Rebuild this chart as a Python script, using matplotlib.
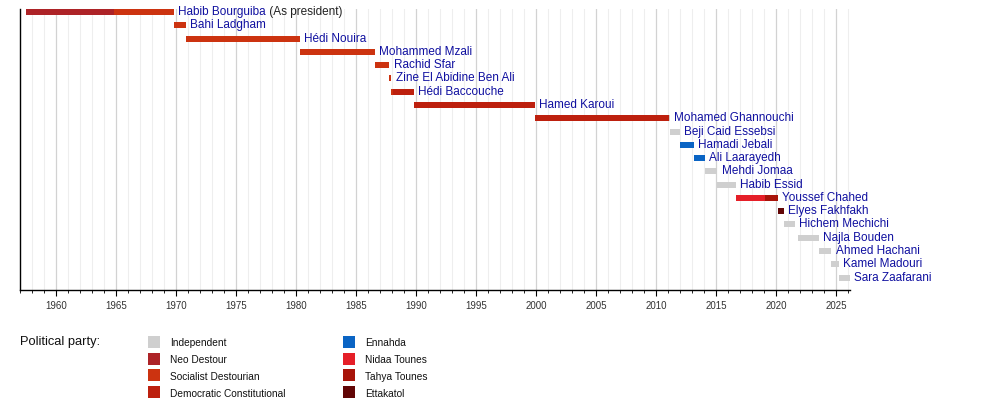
import matplotlib
matplotlib.use("Agg")
import matplotlib.pyplot as plt
from matplotlib.ticker import MultipleLocator
from matplotlib.patches import Rectangle

plt.rcParams["font.family"] = ["Liberation Sans", "DejaVu Sans"]

# heads of government, top to bottom
names = ["Habib Bourguiba", "Bahi Ladgham", "Hédi Nouira", "Mohammed Mzali", "Rachid Sfar",
         "Zine El Abidine Ben Ali", "Hédi Baccouche", "Hamed Karoui", "Mohamed Ghannouchi",
         "Beji Caid Essebsi", "Hamadi Jebali", "Ali Laarayedh", "Mehdi Jomaa", "Habib Essid",
         "Youssef Chahed", "Elyes Fakhfakh", "Hichem Mechichi", "Najla Bouden", "Ahmed Hachani",
         "Kamel Madouri", "Sara Zaafarani"]
name_notes = {"Habib Bourguiba": "(As president)"}

# term segments (row index, start year, end year, party)
seg_row = [0, 0, 1, 2, 3, 4, 5, 6, 6, 7, 8, 8, 9, 10, 11, 12, 13, 14, 14, 15, 16, 17, 18, 19, 20]
seg_start = [1957.5, 1964.8, 1969.85, 1970.85, 1980.3, 1986.55, 1987.78, 1987.92, 1988.1, 1989.8,
             1999.9, 2011.05, 2011.18, 2011.98, 2013.18, 2014.08, 2015.1, 2016.65, 2019.05,
             2020.16, 2020.67, 2021.78, 2023.58, 2024.6, 2025.2]
seg_end = [1964.8, 1969.85, 1970.85, 1980.3, 1986.55, 1987.78, 1987.95, 1988.1, 1989.8, 1999.9,
           2011.05, 2011.16, 2011.98, 2013.18, 2014.08, 2015.1, 2016.65, 2019.05, 2020.16,
           2020.67, 2021.56, 2023.58, 2024.6, 2025.2, 2026.15]
seg_party = ["Neo Destour", "Socialist Destourian", "Socialist Destourian", "Socialist Destourian",
             "Socialist Destourian", "Socialist Destourian", "Socialist Destourian",
             "Socialist Destourian", "Democratic Constitutional", "Democratic Constitutional",
             "Democratic Constitutional", "Independent", "Independent", "Ennahda", "Ennahda",
             "Independent", "Independent", "Nidaa Tounes", "Tahya Tounes", "Ettakatol",
             "Independent", "Independent", "Independent", "Independent", "Independent"]

parties_col1 = ["Independent", "Neo Destour", "Socialist Destourian", "Democratic Constitutional"]
parties_col2 = ["Ennahda", "Nidaa Tounes", "Tahya Tounes", "Ettakatol"]
party_colors = {
    "Independent": "#cfcfcf",
    "Neo Destour": "#ad2327",
    "Socialist Destourian": "#cc3310",
    "Democratic Constitutional": "#bd200e",
    "Ennahda": "#0a64c4",
    "Nidaa Tounes": "#e51f28",
    "Tahya Tounes": "#a8140a",
    "Ettakatol": "#620606",
}

LABEL_BLUE = "#1010a0"

fig = plt.figure(figsize=(10, 4.08), dpi=100)
ax = fig.add_axes([0.02, 118.5 / 408, 0.83, 280.5 / 408])

bar_h = 0.45
for r, s, e, p in zip(seg_row, seg_start, seg_end, seg_party):
    ax.barh(r, e - s, left=s, height=bar_h, color=party_colors[p], linewidth=0, zorder=3)

# names to the right of each bar
for i, n in enumerate(names):
    end = max(e for r, e in zip(seg_row, seg_end) if r == i)
    t = ax.annotate(n, (end, i), xytext=(3, 0), textcoords="offset points",
                    va="center", ha="left", fontsize=8.5, color=LABEL_BLUE, zorder=4,
                    annotation_clip=False)
    if n in name_notes:
        ax.annotate(" " + name_notes[n], xycoords=t, xy=(1, 0.5), va="center", ha="left",
                    fontsize=8.5, color="#222222", annotation_clip=False)

ax.set_xlim(1957, 2026.15)
ax.set_ylim(20.9, -0.23)
ax.xaxis.set_major_locator(MultipleLocator(5))
ax.xaxis.set_minor_locator(MultipleLocator(1))
ax.grid(True, which="major", axis="x", color="#d2d2d2", linewidth=0.9, zorder=0)
ax.grid(True, which="minor", axis="x", color="#eeeeee", linewidth=0.8, zorder=0)
ax.set_yticks([])
for side in ["top", "right"]:
    ax.spines[side].set_visible(False)
ax.spines["left"].set_linewidth(1.0)
ax.spines["bottom"].set_linewidth(1.0)
ax.tick_params(axis="x", which="major", length=4, width=0.8, labelsize=7, labelcolor="#333333", pad=4)
ax.tick_params(axis="x", which="minor", length=2, width=0.6)

# legend
fig.text(20 / 1000, 1 - 342 / 408, "Political party:", fontsize=9.3, va="center", ha="left", color="#111111")
row_y = [342, 358.7, 375.4, 392.1]
for col_x, plist in [(148, parties_col1), (343, parties_col2)]:
    for y, p in zip(row_y, plist):
        fig.patches.append(Rectangle((col_x / 1000, 1 - (y + 6) / 408), 12 / 1000, 12 / 408,
                                     transform=fig.transFigure, facecolor=party_colors[p],
                                     edgecolor="none"))
        fig.text((col_x + 22) / 1000, 1 - (y + 1.5) / 408, p, fontsize=7.25, va="center",
                 ha="left", color="#111111")

fig.savefig("out.png", dpi=100)
